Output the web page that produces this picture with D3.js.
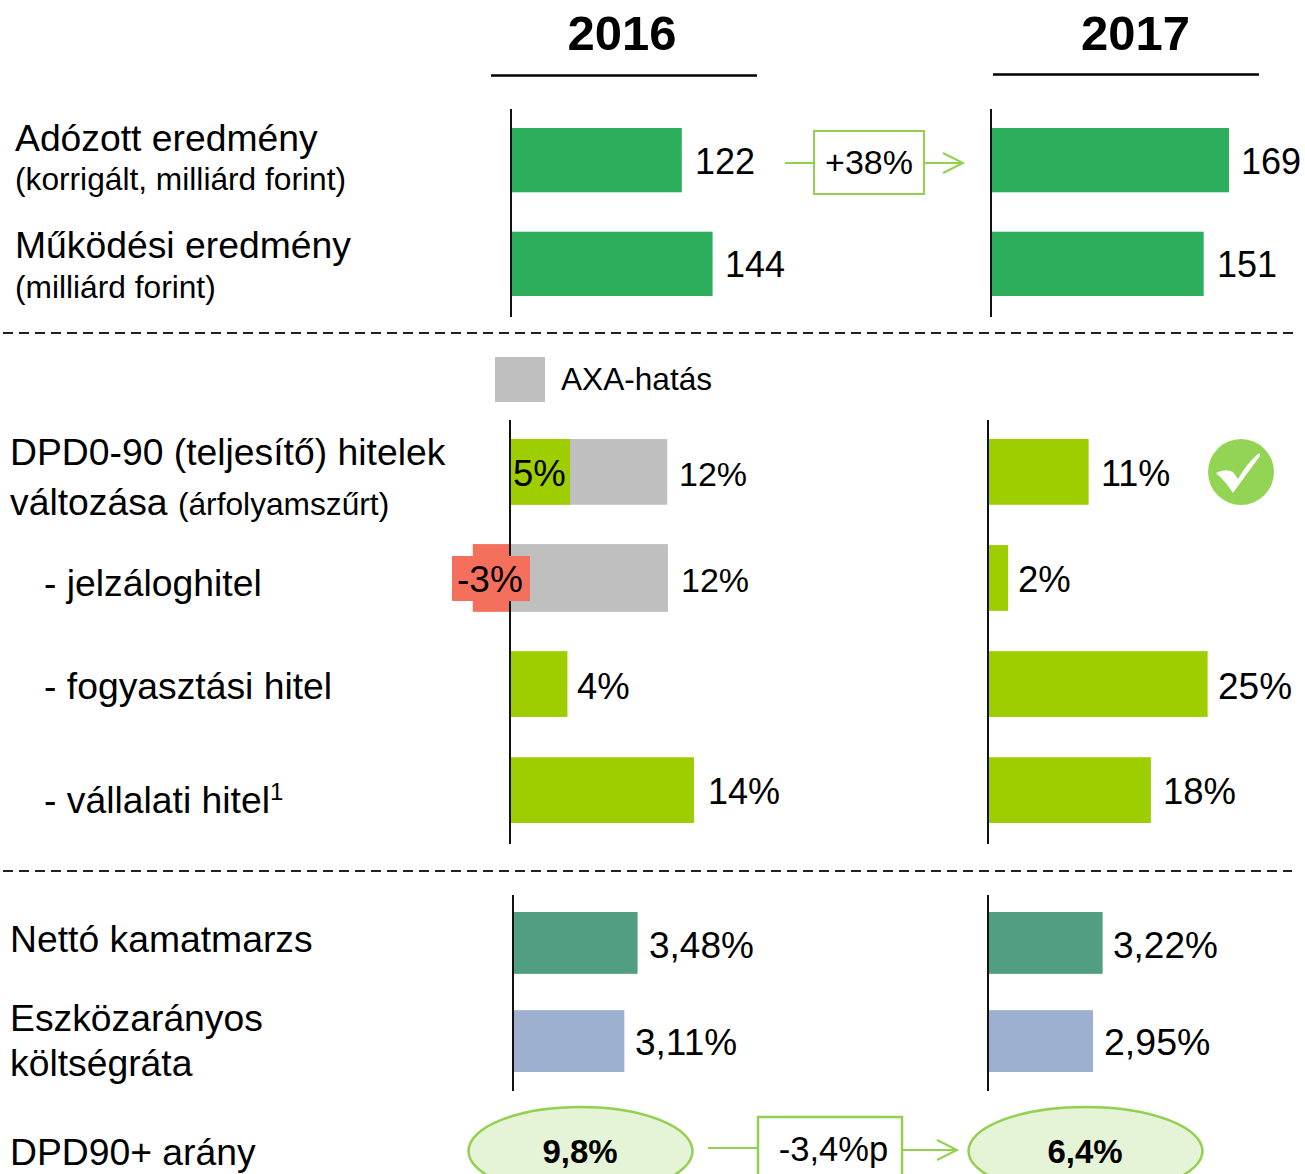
<!DOCTYPE html>
<html><head><meta charset="utf-8">
<script src="https://cdnjs.cloudflare.com/ajax/libs/d3/7.8.5/d3.min.js"></script>
<style>html,body{margin:0;padding:0;background:#fff}svg{display:block}text{font-family:"Liberation Sans",Arial,sans-serif;fill:#000}</style>
</head><body><div id="c"></div>
<script>
const years = ["2016", "2017"];
const profitRows = ["Adózott eredmény", "Működési eredmény"];
const profit2016 = [122, 144];
const profit2017 = [169, 151];
const loanRows = ["DPD0-90", "jelzáloghitel", "fogyasztási hitel", "vállalati hitel"];
const loan2016 = [4.6, -2.85, 4.4, 14.1];
const loan2016Axa = [12.05, 12.1, null, null];
const loan2016Labels = ["12%", "12%", "4%", "14%"];
const loan2017 = [11, 2.2, 24, 17.8];
const loan2017Labels = ["11%", "2%", "25%", "18%"];
const marginRows = ["Nettó kamatmarzs", "Eszközarányos költségráta"];
const margin2016 = [3.48, 3.11];
const margin2017 = [3.22, 2.95];
const marginColors = ["#519e80", "#9db0cf"];
const changeProfit = "+38%";
const changeDpd = "-3,4%p";
const dpd90 = ["9,8%", "6,4%"];

const W = 1305, H = 1174;
const svg = d3.select("#c").append("svg").attr("width", W).attr("height", H);
const txt = (x, y, s, size, o = {}) => svg.append("text").attr("x", x).attr("y", y)
  .attr("font-size", size).attr("font-weight", o.bold ? 700 : 400)
  .attr("text-anchor", o.anchor || "start").text(s);
const line = (x1, y1, x2, y2, c = "#000", w = 2, dash) => svg.append("line")
  .attr("x1", x1).attr("y1", y1).attr("x2", x2).attr("y2", y2)
  .attr("stroke", c).attr("stroke-width", w).attr("stroke-dasharray", dash || null);

// year headers
[[622, 491, 757, 75.5], [1135.5, 993, 1259, 74.5]].forEach((h, i) => {
  txt(h[0], 50, years[i], 49, {bold: true, anchor: "middle"});
  line(h[1], h[3], h[2], h[3], "#000", 2.5);
});

// separators
line(3, 333, 1297, 333, "#222", 2, "10 6");
line(3, 871, 1292, 871, "#222", 2, "10 6");

// scales
const yProfit = d3.scaleBand().domain(profitRows).range([128, 296]).paddingInner(0.38);
const yLoan = d3.scaleBand().domain(loanRows).range([439, 823]).paddingInner(0.38);
const yMargin = d3.scaleBand().domain(marginRows).range([912, 1072]).paddingInner(0.37);
const xProfit16 = d3.scaleLinear().domain([0, 100]).range([511, 651]);
const xProfit17 = d3.scaleLinear().domain([0, 100]).range([991.5, 1132]);
const xLoan16 = d3.scaleLinear().domain([0, 10]).range([510, 640.5]);
const xLoan17 = d3.scaleLinear().domain([0, 10]).range([988, 1079.5]);
const xMargin16 = d3.scaleLinear().domain([0, 1]).range([513, 548.8]);
const xMargin17 = d3.scaleLinear().domain([0, 1]).range([988, 1023.6]);

function bars(rows, vals, x, y, color, cls) {
  svg.selectAll("rect." + cls).data(rows).join("rect").attr("class", cls)
    .attr("x", (d, i) => Math.min(x(0), x(vals[i])))
    .attr("y", (d, i) => y(d) - (vals === loan2016Axa && i === 1 || vals === loan2016 && i === 1 ? 1 : 0))
    .attr("width", (d, i) => vals[i] == null ? 0 : Math.abs(x(vals[i]) - x(0)))
    .attr("height", (d, i) => y.bandwidth() + (vals === loan2016Axa && i === 1 || vals === loan2016 && i === 1 ? 2 : 0))
    .attr("fill", typeof color === "function" ? color : () => color);
}
const GREEN = "#2dae5d", LIME = "#9fce00", GREY = "#bfbfbf", RED = "#f5705c", ARROW = "#92d050";

bars(profitRows, profit2016, xProfit16, yProfit, GREEN, "p16");
bars(profitRows, profit2017, xProfit17, yProfit, GREEN, "p17");
bars(loanRows, loan2016Axa, xLoan16, yLoan, GREY, "axa");
bars(loanRows, loan2016, xLoan16, yLoan, (d, i) => loan2016[i] < 0 ? RED : LIME, "l16");
bars(loanRows, loan2017, xLoan17, yLoan, LIME, "l17");
bars(marginRows, margin2016, xMargin16, yMargin, (d, i) => marginColors[i], "m16");
bars(marginRows, margin2017, xMargin17, yMargin, (d, i) => marginColors[i], "m17");

// axes
[[511, 109, 317], [991, 109, 317], [510, 420, 844], [988, 420, 844], [513, 895, 1091], [988, 895, 1091]]
  .forEach(a => line(a[0], a[1], a[0], a[2], "#111", 2));

// -3% label background (sits over the axis)
svg.append("rect").attr("x", 452).attr("y", 556).attr("width", 78).attr("height", 45).attr("fill", RED);

// value labels
txt(695, 174, String(profit2016[0]), 36);
txt(725, 277, String(profit2016[1]), 36);
txt(1241, 174, String(profit2017[0]), 36);
txt(1217, 277, String(profit2017[1]), 36);
txt(679, 486, loan2016Labels[0], 34);
txt(681, 592, loan2016Labels[1], 34);
txt(577, 699, loan2016Labels[2], 36.5);
txt(708, 804, loan2016Labels[3], 36);
txt(1101, 486, loan2017Labels[0], 36);
txt(1018, 592, loan2017Labels[1], 36.5);
txt(1218, 699, loan2017Labels[2], 37);
txt(1163, 804, loan2017Labels[3], 36.5);
txt(513, 486, "5%", 36.5);
txt(457, 592, "-3%", 37);
const pct = v => v.toFixed(2).replace(".", ",") + "%";
txt(649, 958, pct(margin2016[0]), 37);
txt(635, 1055, pct(margin2016[1]), 37);
txt(1113, 958, pct(margin2017[0]), 37);
txt(1104, 1055, pct(margin2017[1]), 37.5);

// legend
svg.append("rect").attr("x", 495).attr("y", 357).attr("width", 50).attr("height", 45).attr("fill", GREY);
txt(561, 390, "AXA-hatás", 31.6);

// row labels
const LF = 37.3, SF = 31.7;
txt(15, 151, profitRows[0], LF);
txt(15, 190, "(korrigált, milliárd forint)", SF);
txt(15, 258, profitRows[1], LF);
txt(15, 298, "(milliárd forint)", SF);
txt(10, 465, "DPD0-90 (teljesítő) hitelek", LF);
const t2 = txt(10, 515, "változása ", LF);
t2.append("tspan").attr("font-size", SF).text("(árfolyamszűrt)");
txt(44, 596, "- jelzáloghitel", LF);
txt(44, 699, "- fogyasztási hitel", LF);
const t3 = txt(44, 813, "- vállalati hitel", LF);
t3.append("tspan").attr("font-size", 24).attr("dy", -13).text("1");
txt(10, 952, marginRows[0], LF);
txt(10, 1031, "Eszközarányos", LF);
txt(10, 1076, "költségráta", LF);
txt(10, 1165, "DPD90+ arány", LF);

// change boxes and arrows
function arrow(x1, y, x2) {
  line(x1, y, x2 - 1, y, ARROW, 2);
  svg.append("path").attr("d", `M${x2 - 21},${y - 10}L${x2 - 1},${y}L${x2 - 21},${y + 10}`)
    .attr("fill", "none").attr("stroke", ARROW).attr("stroke-width", 2);
}
line(785, 163, 814, 163, ARROW, 2);
arrow(924, 163, 964);
svg.append("rect").attr("x", 814).attr("y", 131).attr("width", 110).attr("height", 63)
  .attr("fill", "#fff").attr("stroke", ARROW).attr("stroke-width", 2);
txt(869, 174, changeProfit, 34, {anchor: "middle"});

line(708, 1148, 758, 1148, ARROW, 2);
arrow(902, 1150, 958);
svg.append("rect").attr("x", 758).attr("y", 1117).attr("width", 144).attr("height", 70)
  .attr("fill", "#fff").attr("stroke", ARROW).attr("stroke-width", 2.5);
txt(833.5, 1161, changeDpd, 34.5, {anchor: "middle"});

// DPD90+ ellipses
[[580.5, 112, 0], [1085.5, 117, 1]].forEach(([cx, rx, i]) => {
  svg.append("ellipse").attr("cx", cx).attr("cy", 1151).attr("rx", rx).attr("ry", 44)
    .attr("fill", "#e5f3d6").attr("stroke", ARROW).attr("stroke-width", 2.5);
  txt(cx - 0.5, 1163, dpd90[i], 33, {bold: true, anchor: "middle"});
});

// check badge
svg.append("circle").attr("cx", 1241).attr("cy", 472).attr("r", 33).attr("fill", "#94d454");
svg.append("path").attr("d", "M1216,473 Q1225,468 1233,472 L1238,479 Q1247,463 1258,454 Q1260,452 1260,456 Q1248,472 1233,493 Q1226,482 1216,473 Z")
  .attr("fill", "#fff");
</script></body></html>
